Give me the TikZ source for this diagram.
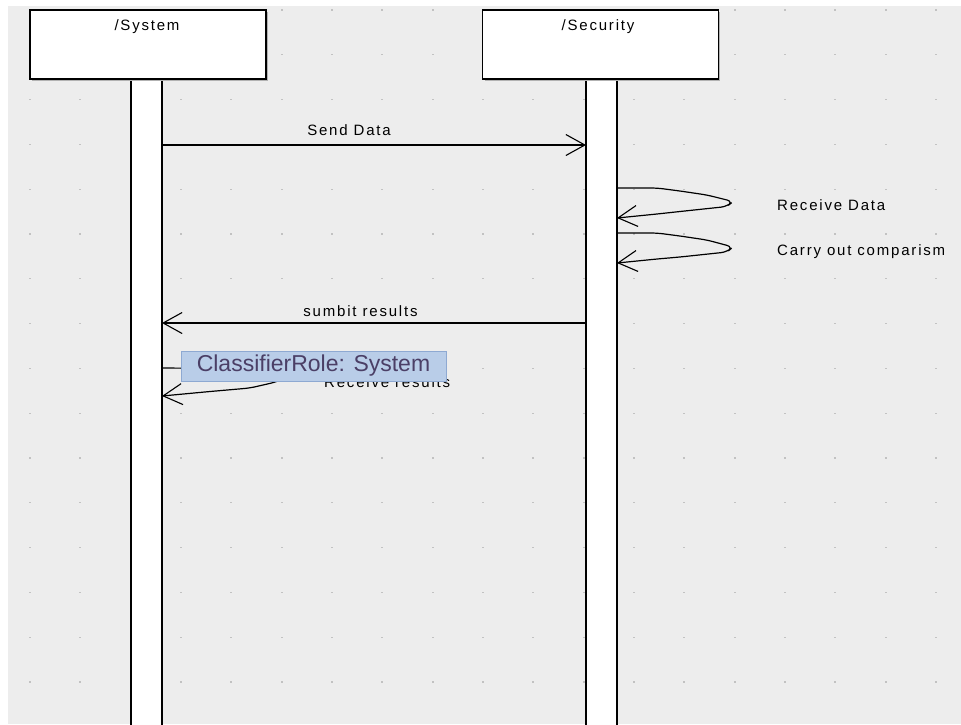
\documentclass[tikz,border=0pt]{standalone}
\usepackage{fontspec}
\setmainfont{Liberation Sans}
\newfontfamily\umlfont[LetterSpace=12]{Liberation Sans}
\usetikzlibrary{arrows.meta}

\definecolor{canvas}{HTML}{EDEDED}
\definecolor{griddot}{HTML}{C2C2C2}
\definecolor{tipfill}{HTML}{B9CDE8}
\definecolor{tipline}{HTML}{8EA9D2}
\definecolor{tiptext}{HTML}{4B3F66}

\tikzset{
  msg/.style={line width=1.2pt, rounded corners=6pt, -{Straight Barb[length=19pt,width=21pt,line width=1.1pt]}},
  lbl/.style={font=\umlfont\fontsize{15}{17}\selectfont, inner sep=0pt},
  rolebox/.style={draw, line width=1.6pt, fill=white, minimum width=236pt, minimum height=69pt, inner sep=0pt},
  tooltip/.style={draw=tipline, line width=1pt, fill=tipfill, text=tiptext, font=\fontsize{23}{26}\selectfont,
    minimum width=265pt, minimum height=30pt, inner sep=0pt},
}

\begin{document}
\begin{tikzpicture}[x=1pt,y=-1pt]
  \useasboundingbox (0,0) rectangle (961,724);
  \fill[white] (0,0) rectangle (961,724);
  \fill[canvas] (8,6) rectangle (961,724);
  % dotted grid
  \foreach \i in {0,...,18}
    \foreach \j in {0,...,15}
      \fill[griddot] ({29+50.33*\i},{9.4+44.8*\j}) rectangle +(2,1.2);

  % lifelines
  \fill[white] (131,79) rectangle (162,730);
  \draw[line width=1.2pt] (131,79) -- (131,730);
  \draw[line width=1.8pt] (162,79) -- (162,730);
  \fill[white] (586,79) rectangle (617,730);
  \draw[line width=1.2pt] (586,79) -- (586,730);
  \draw[line width=1.8pt] (617,79) -- (617,730);

  % heads
  \fill[black!30] (32,12) rectangle (268,81);
  \node[rolebox] (sys) at (148,44.5) {};
  \node[lbl, anchor=base] (sys-name) at (147,30) {/System};
  \fill[black!30] (485,12) rectangle (720,81);
  \node[rolebox] (sec) at (600.5,44.5) {};
  \node[lbl, anchor=base] (sec-name) at (598,30) {/Security};

  % messages
  \coordinate (send-a) at (162,145);
  \coordinate (send-b) at (586,145);
  \draw[msg] (send-a) -- (send-b);
  \node[lbl, anchor=base] (send-txt) at (349,135) {Send Data};

  \coordinate (recv-a) at (617,188);
  \coordinate (recv-b) at (617,218);
  \draw[msg] (recv-a) -- (657,188) -- (680,191) -- (707,195) -- (733,201.5)
    -- (727,206.5) -- (680,211.5) -- (657,214) -- (recv-b);
  \node[lbl, anchor=base west] (recv-txt) at (777,210) {Receive Data};

  \coordinate (cmp-a) at (617,233);
  \coordinate (cmp-b) at (617,263);
  \draw[msg] (cmp-a) -- (657,233) -- (680,236) -- (707,240) -- (733,247)
    -- (727,252) -- (680,257) -- (657,259) -- (cmp-b);
  \node[lbl, anchor=base west] (cmp-txt) at (777,255) {Carry out comparism};

  \coordinate (res-a) at (586,323);
  \coordinate (res-b) at (162,323);
  \draw[msg] (res-a) -- (res-b);
  \node[lbl, anchor=base] (res-txt) at (360.5,316.5) {sumbit results};

  \coordinate (got-a) at (162,368);
  \coordinate (got-b) at (162,396);
  \draw[msg] (got-a) -- (230,368.5) -- (272,372) -- (288,377) -- (276,382)
    -- (250,388) -- (210,391.5) -- (got-b);
  \node[lbl, anchor=base west] (got-txt) at (324,387) {Receive results};

  % hover tip
  \node[tooltip] (tip) at (313.5,366) {ClassifierRole: System};
\end{tikzpicture}
\end{document}
